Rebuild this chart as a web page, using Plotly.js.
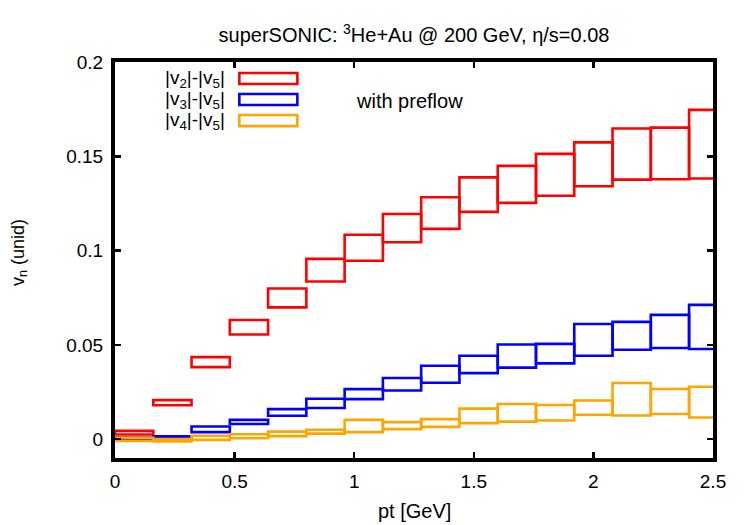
<!DOCTYPE html>
<html>
<head>
<meta charset="utf-8">
<script src="https://cdn.plot.ly/plotly-3.0.1.min.js"></script>
<style>html,body{margin:0;padding:0;background:#fff;}#chart{width:750px;height:525px;}</style>
</head>
<body>
<div id="chart"></div>
<script>
// bin centres (pt, GeV) and bin width
const pt = [0.08, 0.24, 0.40, 0.56, 0.72, 0.88, 1.04, 1.20, 1.36, 1.52, 1.68, 1.84, 2.00, 2.16, 2.32, 2.48];
const binWidth = 0.16;

// |v2|-|v5| band
const v2Low  = [0.0025, 0.0180, 0.0382, 0.0555, 0.0699, 0.0836, 0.0946, 0.1044, 0.1115, 0.1205, 0.1253, 0.1291, 0.1341, 0.1376, 0.1378, 0.1382];
const v2High = [0.0044, 0.0207, 0.0435, 0.0632, 0.0799, 0.0956, 0.1084, 0.1194, 0.1283, 0.1388, 0.1449, 0.1513, 0.1574, 0.1647, 0.1652, 0.1746];
// |v3|-|v5| band
const v3Low  = [0.0002, 0.0011, 0.0037, 0.0080, 0.0124, 0.0165, 0.0212, 0.0258, 0.0299, 0.0350, 0.0379, 0.0402, 0.0442, 0.0474, 0.0483, 0.0478];
const v3High = [0.0008, 0.0015, 0.0067, 0.0102, 0.0159, 0.0214, 0.0265, 0.0324, 0.0389, 0.0442, 0.0502, 0.0505, 0.0611, 0.0622, 0.0659, 0.0712];
// |v4|-|v5| band
const v4Low  = [-0.0009, -0.0012, -0.0004, 0.0005, 0.0016, 0.0029, 0.0037, 0.0053, 0.0065, 0.0085, 0.0093, 0.0099, 0.0129, 0.0125, 0.0133, 0.0115];
const v4High = [0.0007, 0.0001, 0.0018, 0.0026, 0.0040, 0.0050, 0.0102, 0.0090, 0.0106, 0.0162, 0.0186, 0.0181, 0.0205, 0.0298, 0.0266, 0.0278];

const seriesNames = ['|v<sub>2</sub>|-|v<sub>5</sub>|', '|v<sub>3</sub>|-|v<sub>5</sub>|', '|v<sub>4</sub>|-|v<sub>5</sub>|'];
const seriesColors = ['#ff0000', '#0000ff', '#ffa500'];
const lows = [v2Low, v3Low, v4Low];
const highs = [v2High, v3High, v4High];

const xTickVals = [0, 0.5, 1, 1.5, 2, 2.5];
const xTickText = ['0', '0.5', '1', '1.5', '2', '2.5'];
const yTickVals = [0, 0.05, 0.1, 0.15, 0.2];
const yTickText = ['0', '0.05', '0.1', '0.15', '0.2'];

const FONT = 'Liberation Sans, Arial, sans-serif';

const traces = lows.map((lo, i) => ({
  type: 'bar',
  x: pt,
  base: lo,
  y: lo.map((v, k) => highs[i][k] - v),
  width: binWidth,
  name: seriesNames[i],
  marker: {color: 'rgba(0,0,0,0)', line: {color: seriesColors[i], width: 2.6}},
  showlegend: false,
  hoverinfo: 'skip'
}));

// plot-area pixel frame used to place the hand-made legend
const PX0 = 114.7, PX1 = 712.5, PY0 = 62.5, PY1 = 458;
const px = v => (v - PX0) / (PX1 - PX0);
const py = v => 1 - (v - PY0) / (PY1 - PY0);

const annotations = [];
const shapes = [];
const legTop = 79, legStep = 21;
seriesNames.forEach((n, i) => {
  const yc = legTop + i * legStep;
  annotations.push({
    xref: 'paper', yref: 'paper', x: px(227), y: py(yc),
    xanchor: 'right', yanchor: 'middle',
    text: n, showarrow: false,
    font: {family: FONT, size: 19, color: '#000'}
  });
  shapes.push({
    type: 'rect', xref: 'paper', yref: 'paper',
    x0: px(239), x1: px(297), y0: py(yc - 5.5), y1: py(yc + 5.5),
    line: {color: seriesColors[i], width: 2.6}, fillcolor: 'rgba(0,0,0,0)'
  });
});
annotations.push({
  xref: 'paper', yref: 'paper', x: px(354), y: py(101),
  xanchor: 'left', yanchor: 'middle',
  text: 'with preflow', showarrow: false,
  font: {family: FONT, size: 20, color: '#000'}
});
// axis titles
annotations.push({
  xref: 'paper', yref: 'paper', x: 0.5, y: py(511),
  xanchor: 'center', yanchor: 'middle', text: 'pt [GeV]', showarrow: false,
  font: {family: FONT, size: 20, color: '#000'}
});
annotations.push({
  xref: 'paper', yref: 'paper', x: px(19), y: py(253),
  xanchor: 'center', yanchor: 'middle', textangle: -90, text: 'v<sub>n</sub> (unid)', showarrow: false,
  font: {family: FONT, size: 18, color: '#000'}
});

const axisCommon = {
  showline: true, linecolor: '#000', linewidth: 4, mirror: 'ticks',
  ticks: 'inside', ticklen: 6, tickwidth: 2.5, tickcolor: '#000',
  showgrid: false, zeroline: false,
  tickfont: {family: FONT, size: 19, color: '#000'}
};

const layout = {
  width: 750, height: 525,
  margin: {l: 115, r: 37, t: 62, b: 67, pad: 0},
  paper_bgcolor: '#fff', plot_bgcolor: '#fff',
  barmode: 'overlay',
  title: {
    text: 'superSONIC: <sup>3</sup>He+Au @ 200 GeV, η/s=0.08',
    font: {family: FONT, size: 20, color: '#000'},
    xref: 'paper', x: 0.5, xanchor: 'center',
    yref: 'container', y: 1 - 35 / 525, yanchor: 'middle'
  },
  xaxis: Object.assign({}, axisCommon, {
    range: [0, 2.5], tickvals: xTickVals, ticktext: xTickText, ticklabelstandoff: 3
  }),
  yaxis: Object.assign({}, axisCommon, {
    range: [-0.01, 0.2], tickvals: yTickVals, ticktext: yTickText, ticklabelstandoff: 4
  }),
  annotations: annotations,
  shapes: shapes
};

Plotly.newPlot('chart', traces, layout, {displayModeBar: false, staticPlot: true});
</script>
</body>
</html>
